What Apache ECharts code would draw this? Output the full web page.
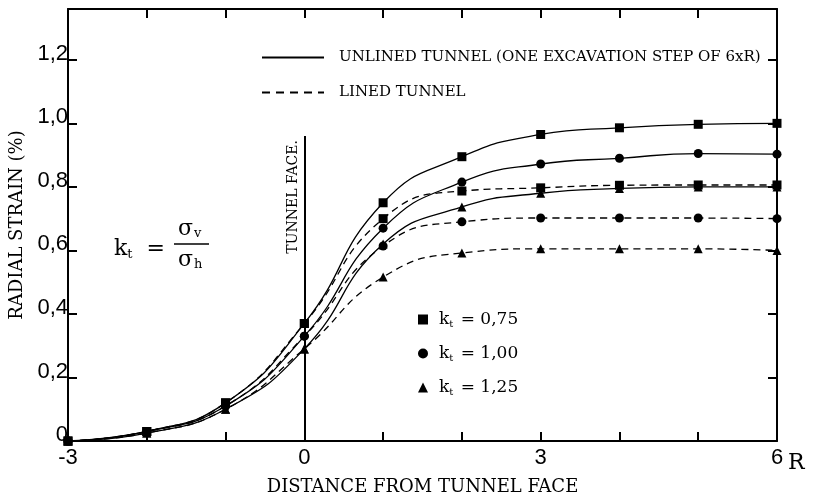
<!DOCTYPE html>
<html lang="en">
<head>
    <meta charset="UTF-8">
    <title>radial strain vs distance from tunnel face</title>
    <script type="text/javascript" src="https://cdn.jsdelivr.net/npm/echarts@6/dist/echarts.min.js"></script>
    <style>
        html, body { margin: 0; padding: 0; background: #fff; }
    </style>
</head>
<body>
    <div id="main" style="width: 815px; height: 501px;"></div>

    <script type="text/javascript">
        // distance from the tunnel face, in radii
        var xSteps = [-3, -2, -1, 0, 1, 2, 3, 4, 5, 6];

        // radial strain (%)
        var unlined075 = [0, 0.03, 0.12, 0.37, 0.75, 0.895, 0.965, 0.986, 0.997, 1.0];
        var unlined100 = [0, 0.03, 0.11, 0.33, 0.67, 0.815, 0.872, 0.89, 0.905, 0.903];
        var unlined125 = [0, 0.025, 0.10, 0.29, 0.62, 0.737, 0.78, 0.795, 0.80, 0.80];
        var lined075 = [0, 0.03, 0.12, 0.37, 0.70, 0.787, 0.797, 0.805, 0.806, 0.806];
        var lined100 = [0, 0.03, 0.11, 0.33, 0.614, 0.69, 0.702, 0.702, 0.702, 0.70];
        var lined125 = [0, 0.025, 0.10, 0.29, 0.516, 0.592, 0.605, 0.605, 0.605, 0.60];

        var xLabels = [-3, 0, 3, 6];
        var legendLines = ['UNLINED TUNNEL (ONE EXCAVATION STEP OF 6xR)', 'LINED TUNNEL'];
        var ktNames = ['k_t = 0,75', 'k_t = 1,00', 'k_t = 1,25'];
        var ktSymbols = ['rect', 'circle', 'triangle'];

        var serif = 'DejaVu Serif';
        var narrow = 'Liberation Sans Narrow, Liberation Sans, sans-serif';

        function pairs(arr) {
            return xSteps.map(function (x, i) { return [x, arr[i]]; });
        }

        function curve(name, arr, symbol, dashed) {
            return {
                name: name,
                type: 'line',
                data: pairs(arr),
                smooth: 0.5,
                symbol: symbol,
                symbolSize: 9,
                itemStyle: { color: '#000' },
                lineStyle: { color: '#000', width: 1.3, type: dashed ? [7, 5] : 'solid' },
                z: 3
            };
        }

        var myChart = echarts.init(document.getElementById('main'));

        var series = [
            curve(ktNames[0], unlined075, 'rect', false),
            curve(ktNames[1], unlined100, 'circle', false),
            curve(ktNames[2], unlined125, 'triangle', false),
            curve('lined 0,75', lined075, 'rect', true),
            curve('lined 1,00', lined100, 'circle', true),
            curve('lined 1,25', lined125, 'triangle', true),
            // empty series only for the line-style legend
            { name: legendLines[0], type: 'line', data: [], symbol: 'none',
              lineStyle: { color: '#000', width: 1.4, type: 'solid' }, itemStyle: { color: '#000' } },
            { name: legendLines[1], type: 'line', data: [], symbol: 'none',
              lineStyle: { color: '#000', width: 1.6, type: [8, 6] }, itemStyle: { color: '#000' } }
        ];

        // tunnel face marker
        series[0].markLine = {
            silent: true,
            symbol: 'none',
            lineStyle: { color: '#000', width: 2, type: 'solid' },
            label: {
                show: true,
                formatter: 'TUNNEL FACE.',
                position: 'insideEndTop',
                fontFamily: serif,
                fontSize: 14,
                color: '#000',
                distance: 4
            },
            data: [[{ coord: [0, 0] }, { coord: [0, 0.96] }]]
        };

        var ktRich = {
            k: { fontFamily: serif, fontSize: 17, color: '#000' },
            s: { fontFamily: serif, fontSize: 10, color: '#000', padding: [9, 2, 0, 0] }
        };

        var labelStyle = { fontFamily: narrow, fontSize: 22, color: '#000' };

        myChart.setOption({
            animation: false,
            backgroundColor: '#fff',
            grid: { left: 68, right: 38, top: 9, bottom: 59 },
            legend: [{
                orient: 'vertical',
                left: 256,
                top: 45,
                itemGap: 20,
                itemWidth: 62,
                itemHeight: 14,
                selectedMode: false,
                itemStyle: { opacity: 0 },
                data: legendLines,
                textStyle: { fontFamily: serif, fontSize: 15, color: '#000', padding: [0, 0, 0, 10] }
            }, {
                orient: 'vertical',
                left: 413,
                top: 306,
                itemGap: 16,
                itemWidth: 10,
                itemHeight: 10,
                selectedMode: false,
                data: ktNames.map(function (n, i) { return { name: n, icon: ktSymbols[i] }; }),
                formatter: function (name) {
                    return '{k|k}{s|t}{k| = ' + name.split('= ')[1] + '}';
                },
                textStyle: { rich: ktRich, padding: [0, 0, 0, 6] }
            }],
            xAxis: [{
                type: 'value',
                min: -3,
                max: 6,
                interval: 1,
                name: 'DISTANCE FROM TUNNEL FACE',
                nameLocation: 'middle',
                nameGap: 37,
                nameTextStyle: { fontFamily: serif, fontSize: 18, color: '#000' },
                axisLine: { onZero: false, lineStyle: { color: '#000', width: 2 } },
                axisTick: { inside: true, length: 9, lineStyle: { color: '#000', width: 2 } },
                axisLabel: Object.assign({
                    margin: 6,
                    formatter: function (v) { return xLabels.indexOf(v) >= 0 ? String(v) : ''; }
                }, labelStyle),
                splitLine: { show: false }
            }, {
                type: 'value',
                position: 'top',
                min: -3,
                max: 6,
                interval: 1,
                axisLine: { show: true, onZero: false, lineStyle: { color: '#000', width: 2 } },
                axisTick: { inside: true, length: 9, lineStyle: { color: '#000', width: 2 } },
                axisLabel: { show: false },
                splitLine: { show: false }
            }],
            yAxis: [{
                type: 'value',
                min: 0,
                max: 1.36,
                interval: 0.2,
                name: 'RADIAL STRAIN (%)',
                nameLocation: 'middle',
                nameGap: 40,
                nameTextStyle: { fontFamily: serif, fontSize: 18, color: '#000' },
                axisLine: { onZero: false, lineStyle: { color: '#000', width: 2 } },
                axisTick: { inside: true, length: 9, lineStyle: { color: '#000', width: 2 } },
                axisLabel: Object.assign({
                    margin: 0,
                    verticalAlign: 'bottom',
                    lineHeight: 12,
                    formatter: function (v) {
                        if (v > 1.25) return '';
                        return v === 0 ? '0' : v.toFixed(1).replace('.', ',');
                    }
                }, labelStyle),
                splitLine: { show: false }
            }, {
                type: 'value',
                position: 'right',
                min: 0,
                max: 1.36,
                interval: 0.2,
                axisLine: { show: true, onZero: false, lineStyle: { color: '#000', width: 2 } },
                axisTick: { inside: true, length: 9, lineStyle: { color: '#000', width: 2 } },
                axisLabel: { show: false },
                splitLine: { show: false }
            }],
            graphic: [{
                type: 'text',
                left: 788,
                top: 452,
                style: { text: 'R', fontFamily: serif, fontSize: 22, fill: '#000' }
            }, {
                type: 'text',
                left: 114,
                top: 238,
                style: {
                    text: '{k|k}{s|t}{k|  =}',
                    rich: {
                        k: { fontFamily: serif, fontSize: 22, fill: '#000' },
                        s: { fontFamily: serif, fontSize: 13, fill: '#000', padding: [12, 0, 0, 0] }
                    }
                }
            }, {
                type: 'line',
                shape: { x1: 174, y1: 244, x2: 209, y2: 244 },
                style: { stroke: '#000', lineWidth: 1.5 }
            }, {
                type: 'text',
                left: 178,
                top: 218,
                style: {
                    text: '{k|σ}{s|v}',
                    rich: {
                        k: { fontFamily: serif, fontSize: 22, fill: '#000' },
                        s: { fontFamily: serif, fontSize: 13, fill: '#000', padding: [10, 0, 0, 1] }
                    }
                }
            }, {
                type: 'text',
                left: 178,
                top: 249,
                style: {
                    text: '{k|σ}{s|h}',
                    rich: {
                        k: { fontFamily: serif, fontSize: 22, fill: '#000' },
                        s: { fontFamily: serif, fontSize: 13, fill: '#000', padding: [10, 0, 0, 1] }
                    }
                }
            }],
            series: series
        });
    </script>
</body>
</html>
